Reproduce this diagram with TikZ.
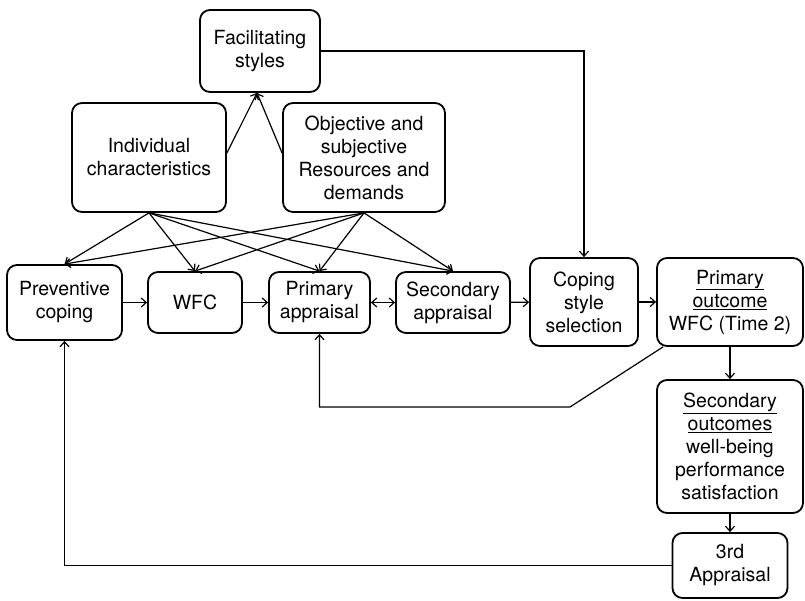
\documentclass[tikz,border=0pt]{standalone}
\usepackage{fontspec}
\setmainfont{TeX Gyre Heros}
\usepackage{tikz}
\usetikzlibrary{arrows.meta}
\tikzstyle{box}=[draw, rounded corners=10pt, line width=1.8pt, align=center, inner sep=2pt, font=\fontsize{19.5}{23}\selectfont]
\tikzstyle{link}=[draw, line width=1.2pt, -{Straight Barb[length=5pt,width=9pt]}]
\tikzstyle{twolink}=[draw, line width=1.2pt, {Straight Barb[length=5pt,width=9pt]}-{Straight Barb[length=5pt,width=9pt]}]

\begin{document}
\begin{tikzpicture}[x=1pt, y=-1pt]
		\useasboundingbox (0,0) rectangle (805,601);
		% First we draw the boxes
		\foreach \pos/\label/\w/\h/\name in {
			{(260,51)/fac/120/82/Facilitating\\styles},
			{(149,157.5)/ind/154/109/Individual\\characteristics},
			{(364,157.5)/obj/162/109/Objective and\\subjective\\Resources and\\demands},
			{(64.5,302.5)/prev/115/75/Preventive\\coping},
			{(195,302.5)/wfc/94/61/WFC},
			{(319.5,302.5)/pri/101/61/Primary\\appraisal},
			{(453,302.5)/sec/114/61/Secondary\\appraisal},
			{(584,302)/cop/108/88/Coping\\style\\selection},
			{(730,302)/out/146/88/\underline{Primary}\\\underline{outcome}\\WFC (Time 2)},
			{(730,446.5)/so/146/133/\underline{Secondary}\\\underline{outcomes}\\well-being\\performance\\satisfaction},
			{(730,565.5)/third/115/65/3rd\\Appraisal}}
		\node[box, minimum width=\w, minimum height=\h] (\label) at \pos {\name};
		
		% Connect boxes with arrows
		\path[link] ([yshift=4.5pt]ind.east) -- ([xshift=-3pt]fac.south);
		\path[link] ([yshift=4.5pt]obj.west) -- ([xshift=-3pt]fac.south);
		\foreach \source/ \dest in {
			ind/prev,ind/wfc,ind/pri,ind/sec,obj/prev,obj/wfc,obj/pri,obj/sec}
		\path[link] (\source.south) -- (\dest.north);
		\foreach \source/ \dest in {
			prev/wfc,wfc/pri,sec/cop,cop/out,out/so,so/third}
		\path[link] (\source) -- (\dest);
		\path[twolink] (pri) -- (sec);
		\path[link] (fac.east) -| (cop.north);
		
		% Feedback loops
		\coordinate (bend) at (570,407);
		\path[link] ([xshift=7pt]out.south west) -- (bend) -| (pri.south);
		\path[link] (third.west) -| (prev.south);
		\end{tikzpicture}
\end{document}
